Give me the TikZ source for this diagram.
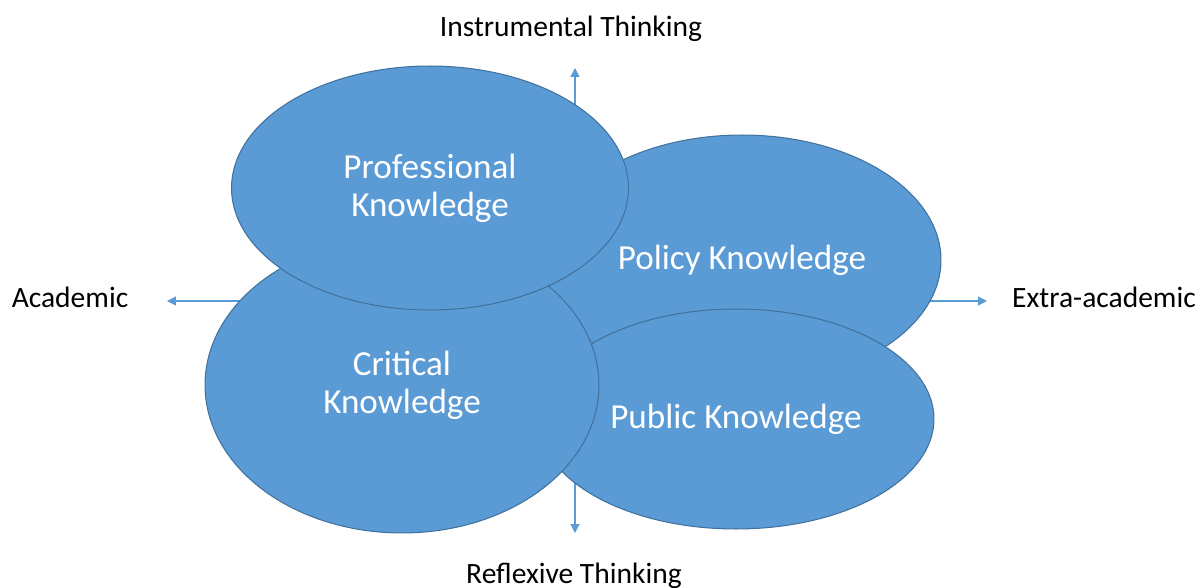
\documentclass[tikz,border=0pt]{standalone}
\usepackage{fontspec}
\setmainfont{Carlito}
\usetikzlibrary{shapes.geometric,arrows.meta,positioning}
\definecolor{blobfill}{HTML}{5B9BD5}
\definecolor{blobline}{HTML}{41719C}

\begin{document}
\begin{tikzpicture}[x=0.02cm, y=-0.02cm,
  blob/.style={ellipse, draw=blobline, line width=0.6pt, fill=blobfill, inner sep=0pt,
    text=white, align=center, font=\fontsize{20}{21.5}\selectfont},
  axisarrow/.style={draw=blobfill, line width=0.6pt, -{Triangle[length=5pt,width=5pt]}},
  axislabel/.style={anchor=base, font=\fontsize{16.8}{18}\selectfont}]
  \useasboundingbox (0,0) rectangle (1201,588);
  \coordinate (o) at (575,301);
  \coordinate (wtip) at (167,301);
  \coordinate (etip) at (987,301);
  \coordinate (ntip) at (575,68);
  \coordinate (stip) at (575,533);
  \foreach \t in {wtip,etip,ntip,stip} {
      \draw[axisarrow] (o) -- (\t);
  }
  \node[blob, minimum width=7.96cm, minimum height=5.0cm] (policy) at (742,260) {Policy Knowledge};
  \node[blob, minimum width=7.92cm, minimum height=4.4cm] (public) at (736,419) {Public Knowledge};
  \node[blob, minimum width=7.88cm, minimum height=5.92cm] (critical) at (402,385) {Critical\\Knowledge};
  \node[blob, minimum width=7.94cm, minimum height=4.88cm] (professional) at (430,188) {Professional\\Knowledge};
  \node[axislabel] (instrumental) at (571,37) {Instrumental Thinking};
  \node[axislabel] (reflexive) at (574,583) {Reflexive Thinking};
  \node[axislabel] (academic) at (70,307) {Academic};
  \node[axislabel] (extra) at (1104,307) {Extra-academic};
\end{tikzpicture}
\end{document}
